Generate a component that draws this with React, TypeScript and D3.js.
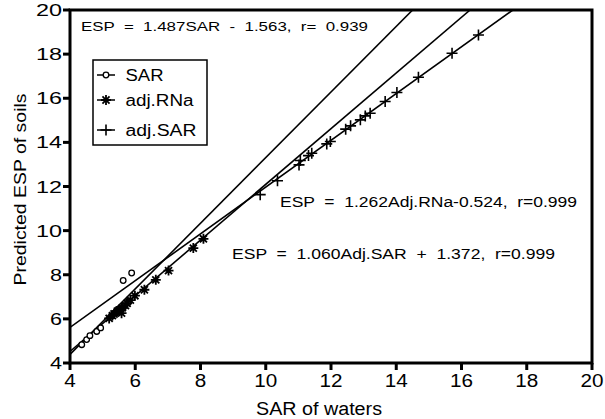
import React from "react";
import * as d3 from "d3";

const sarX = [4.36, 4.51, 4.61, 4.82, 4.94, 5.35, 5.5, 5.65, 5.8, 5.63, 5.89];
const sarY = [4.83, 5.06, 5.24, 5.43, 5.59, 6.25, 6.45, 6.6, 6.8, 7.74, 8.08];

const rnaX = [5.2, 5.3, 5.35, 5.45, 5.5, 5.58, 5.6, 5.7, 5.75, 5.85, 5.99, 6.28, 6.63, 7.02, 7.78, 8.09];
const rnaY = [6.02, 6.15, 6.22, 6.35, 6.4, 6.26, 6.5, 6.6, 6.7, 6.85, 7.05, 7.32, 7.77, 8.19, 9.21, 9.63];

const adjX = [9.83, 10.36, 11.02, 11.06, 11.31, 11.41, 11.87, 11.98, 12.45, 12.6, 12.9, 13.05, 13.2, 13.66, 14.02, 14.68, 15.71, 16.52];
const adjY = [11.63, 12.26, 12.98, 13.18, 13.4, 13.51, 13.93, 14.04, 14.6, 14.75, 15.02, 15.2, 15.32, 15.85, 16.26, 16.95, 18.04, 18.87];

const fitSlope = [1.487, 1.262, 1.06];
const fitIntercept = [-1.563, -0.524, 1.372];
const fitLabels = [
  "ESP  =  1.487SAR  -  1.563,  r=  0.939",
  "ESP  =  1.262Adj.RNa-0.524,  r=0.999",
  "ESP  =  1.060Adj.SAR  +  1.372,  r=0.999",
];

const legendLabels = ["SAR", "adj.RNa", "adj.SAR"];
const xTicks = [4, 6, 8, 10, 12, 14, 16, 18, 20];
const yTicks = [4, 6, 8, 10, 12, 14, 16, 18, 20];
const xTitle = "SAR of waters";
const yTitle = "Predicted ESP of soils";

const FONT = "'Liberation Sans', Arial, Helvetica, sans-serif";

function Marker({ kind, x, y }: { kind: number; x: number; y: number }) {
  if (kind === 0) {
    return <circle cx={x} cy={y} r={2.8} fill="#fff" stroke="#000" strokeWidth={1.3} />;
  }
  if (kind === 1) {
    const r = 5;
    const d = r * Math.SQRT1_2;
    return (
      <path
        d={`M${x - r},${y}L${x + r},${y}M${x},${y - r}L${x},${y + r}M${x - d},${y - d}L${x + d},${y + d}M${x - d},${y + d}L${x + d},${y - d}`}
        stroke="#000"
        strokeWidth={1.8}
      />
    );
  }
  const r = 5.5;
  return (
    <path d={`M${x - r},${y}L${x + r},${y}M${x},${y - r}L${x},${y + r}`} stroke="#000" strokeWidth={1.6} />
  );
}

export default function App() {
  const left = 70, right = 592, top = 10, bottom = 363;
  const x = d3.scaleLinear().domain([4, 20]).range([left, right]);
  const y = d3.scaleLinear().domain([4, 20]).range([bottom, top]);
  const line = d3
    .line<[number, number]>()
    .x((d) => x(d[0]))
    .y((d) => y(d[1]));

  const series = [
    { xs: sarX, ys: sarY },
    { xs: rnaX, ys: rnaY },
    { xs: adjX, ys: adjY },
  ];

  const fitLines = fitSlope.map((m, i) => {
    const b = fitIntercept[i];
    const xEnd = (20 - b) / m;
    return line([
      [4, m * 4 + b],
      [xEnd, 20],
    ]);
  });

  const labelPos = [
    { x: 81, y: 31, w: 287, fs: 13 },
    { x: 280, y: 207, w: 297, fs: 14 },
    { x: 232, y: 259, w: 323, fs: 14 },
  ];
  const legendRows = [75, 100, 130];

  return (
    <svg
      width={605}
      height={419}
      style={{ position: "absolute", left: 0, top: 0, background: "#fff" }}
      fontFamily={FONT}
    >
      <defs>
        <clipPath id="plot">
          <rect x={left} y={top} width={right - left} height={bottom - top} />
        </clipPath>
      </defs>
      <rect width={605} height={419} fill="#fff" />
      <g clipPath="url(#plot)">
        {fitLines.map((d, i) => (
          <path key={i} d={d || ""} fill="none" stroke="#000" strokeWidth={1.6} />
        ))}
        {series.map((s, k) =>
          s.xs.map((xv, i) => <Marker key={`${k}-${i}`} kind={k} x={x(xv)} y={y(s.ys[i])} />)
        )}
      </g>
      <rect x={left} y={top} width={right - left} height={bottom - top} fill="none" stroke="#000" strokeWidth={3} />
      {xTicks.map((t) => (
        <g key={`x${t}`}>
          <line x1={x(t)} x2={x(t)} y1={bottom} y2={bottom + 7} stroke="#000" strokeWidth={3} />
          <text
            x={x(t)}
            y={387}
            textAnchor="middle"
            fontSize={18}
            textLength={t >= 10 ? 23 : 11.5}
            lengthAdjust="spacingAndGlyphs"
          >
            {t}
          </text>
        </g>
      ))}
      {yTicks.map((t) => (
        <g key={`y${t}`}>
          <line x1={left - 7} x2={left} y1={y(t)} y2={y(t)} stroke="#000" strokeWidth={3} />
          <text
            x={62}
            y={y(t) + 6}
            textAnchor="end"
            fontSize={17}
            textLength={t >= 10 ? 26 : 12}
            lengthAdjust="spacingAndGlyphs"
          >
            {t}
          </text>
        </g>
      ))}
      <text x={319} y={415} textAnchor="middle" fontSize={18} textLength={126} lengthAdjust="spacingAndGlyphs">
        {xTitle}
      </text>
      <text
        transform={`translate(26,${(top + bottom) / 2 + 3}) rotate(-90)`}
        textAnchor="middle"
        fontSize={17}
        textLength={192}
        lengthAdjust="spacingAndGlyphs"
      >
        {yTitle}
      </text>
      {fitLabels.map((s, i) => (
        <text
          key={i}
          x={labelPos[i].x}
          y={labelPos[i].y}
          fontSize={labelPos[i].fs}
          textLength={labelPos[i].w}
          lengthAdjust="spacingAndGlyphs"
          style={{ whiteSpace: "pre" }}
        >
          {s}
        </text>
      ))}
      <rect x={93} y={60} width={114} height={85} fill="#fff" stroke="#000" strokeWidth={1.5} />
      {legendLabels.map((s, i) => (
        <g key={s}>
          <line x1={97} x2={115} y1={legendRows[i]} y2={legendRows[i]} stroke="#000" strokeWidth={1.5} />
          <Marker kind={i} x={106} y={legendRows[i]} />
          <text
            x={125.5}
            y={legendRows[i] + 5.5}
            fontSize={16}
            textLength={[38, 68, 71][i]}
            lengthAdjust="spacingAndGlyphs"
          >
            {s}
          </text>
        </g>
      ))}
    </svg>
  );
}
